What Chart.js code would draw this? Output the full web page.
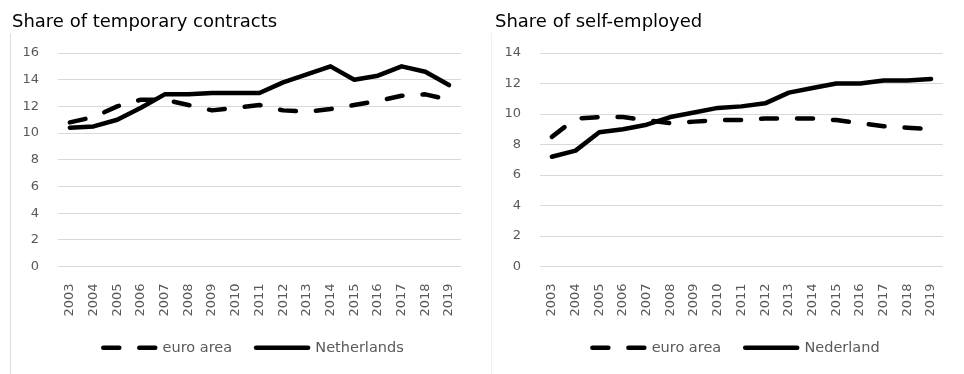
<!DOCTYPE html>
<html>
<head>
<meta charset="utf-8">
<script src="https://cdn.jsdelivr.net/npm/chart.js@4"></script>
<style>
  html, body { margin: 0; padding: 0; background: #fff; }
  body { width: 964px; height: 374px; position: relative; overflow: hidden; font-family: "DejaVu Sans", sans-serif; }
  .panel { position: absolute; top: 0; width: 482px; height: 374px; }
  .panel canvas { position: absolute; left: 0; top: 0; }
  .title { position: absolute; top: 12px; font-size: 18px; line-height: 18px; color: #000; white-space: nowrap; z-index: 2; }
  .rule { position: absolute; top: 33px; bottom: 0; width: 1px; }
</style>
</head>
<body>
<div class="panel" style="left:0">
  <div class="rule" style="left:10px;background:#dcdcdc"></div>
  <div class="title" style="left:12px">Share of temporary contracts</div>
  <canvas id="temp" width="482" height="374" style="width:482px;height:374px"></canvas>
</div>
<div class="panel" style="left:482px">
  <div class="rule" style="left:9px;background:#f0f0f0"></div>
  <div class="title" style="left:13px">Share of self-employed</div>
  <canvas id="self" width="482" height="374" style="width:482px;height:374px"></canvas>
</div>
<script>
// Years on the horizontal axis (shared by both panels)
const years = ['2003','2004','2005','2006','2007','2008','2009','2010','2011',
               '2012','2013','2014','2015','2016','2017','2018','2019'];

// Share of temporary contracts (% of employees)
const tempEuroArea    = [10.8, 11.2, 12.0, 12.5, 12.5, 12.1, 11.7, 11.9, 12.1, 11.7, 11.6, 11.8, 12.1, 12.4, 12.8, 12.9, 12.5];
const tempNetherlands = [10.4, 10.5, 11.0, 11.9, 12.9, 12.9, 13.0, 13.0, 13.0, 13.8, 14.4, 15.0, 14.0, 14.3, 15.0, 14.6, 13.6];

// Share of self-employed (% of employment)
const selfEuroArea  = [8.5, 9.7, 9.8, 9.8, 9.6, 9.4, 9.5, 9.6, 9.6, 9.7, 9.7, 9.7, 9.6, 9.4, 9.2, 9.1, 9.0];
const selfNederland = [7.2, 7.6, 8.8, 9.0, 9.3, 9.8, 10.1, 10.4, 10.5, 10.7, 11.4, 11.7, 12.0, 12.0, 12.2, 12.2, 12.3];

// Value-axis tick labels
const tempTicks = [0, 2, 4, 6, 8, 10, 12, 14, 16];
const selfTicks = [0, 2, 4, 6, 8, 10, 12, 14];

const GREY_TEXT = '#595959';
const FONT = '"DejaVu Sans", sans-serif';

// Moves the bottom legend sideways by a fixed number of pixels
const legendShift = {
  id: 'legendShift',
  afterLayout(chart, args, opts) {
    const lg = chart.legend;
    if (lg && opts.dx) { lg.left += opts.dx; lg.right += opts.dx; }
  }
};

function lineDataset(label, values, dashed) {
  return {
    label,
    data: values,
    borderColor: '#000',
    backgroundColor: '#000',
    borderWidth: 4.5,
    borderDash: dashed ? [16, 20] : [],
    borderCapStyle: 'round',
    borderJoinStyle: 'round',
    pointRadius: 0,
    pointHoverRadius: 0,
    fill: false,
    tension: 0
  };
}

function legendLabels(chart) {
  const items = Chart.defaults.plugins.legend.labels.generateLabels(chart);
  items.forEach(it => {
    const ds = chart.data.datasets[it.datasetIndex];
    it.lineWidth = ds.borderWidth;
    it.lineDash = ds.borderDash;
    it.lineCap = 'round';
    it.strokeStyle = ds.borderColor;
    it.pointStyle = 'line';
  });
  return items;
}

function makeChart(id, datasets, ticks, pad, dx) {
  return new Chart(document.getElementById(id), {
    type: 'line',
    data: { labels: years, datasets },
    plugins: [legendShift],
    options: {
      responsive: false,
      animation: false,
      events: [],
      layout: { padding: pad },
      plugins: {
        legendShift: { dx },
        title: { display: false },
        tooltip: { enabled: false },
        legend: {
          position: 'bottom',
          labels: {
            usePointStyle: true,
            pointStyle: 'line',
            pointStyleWidth: 52,
            padding: 24,
            color: GREY_TEXT,
            font: { family: FONT, size: 14.5 },
            generateLabels: legendLabels
          }
        }
      },
      scales: {
        x: {
          type: 'category',
          offset: true,
          grid: { display: false, drawTicks: false },
          border: { display: false },
          ticks: {
            autoSkip: false,
            minRotation: 90,
            maxRotation: 90,
            padding: 17,
            color: GREY_TEXT,
            font: { family: FONT, size: 13 }
          },
          afterFit: s => { s.height = 50; }
        },
        y: {
          min: ticks[0],
          max: ticks[ticks.length - 1],
          grid: { color: '#d9d9d9', lineWidth: 1, drawTicks: false },
          border: { display: false },
          ticks: {
            stepSize: ticks[1] - ticks[0],
            padding: 19,
            color: GREY_TEXT,
            font: { family: FONT, size: 13 }
          },
          afterFit: s => { s.width = 58 - pad.left; }
        }
      }
    }
  });
}

makeChart('temp', [
  lineDataset('euro area', tempEuroArea, true),
  lineDataset('Netherlands', tempNetherlands, false)
], tempTicks, { left: 20, right: 13, top: 53, bottom: 9 }, 9);

makeChart('self', [
  lineDataset('euro area', selfEuroArea, true),
  lineDataset('Nederland', selfNederland, false)
], selfTicks, { left: 20, right: 11, top: 53, bottom: 9 }, 8.5);
</script>
</body>
</html>
